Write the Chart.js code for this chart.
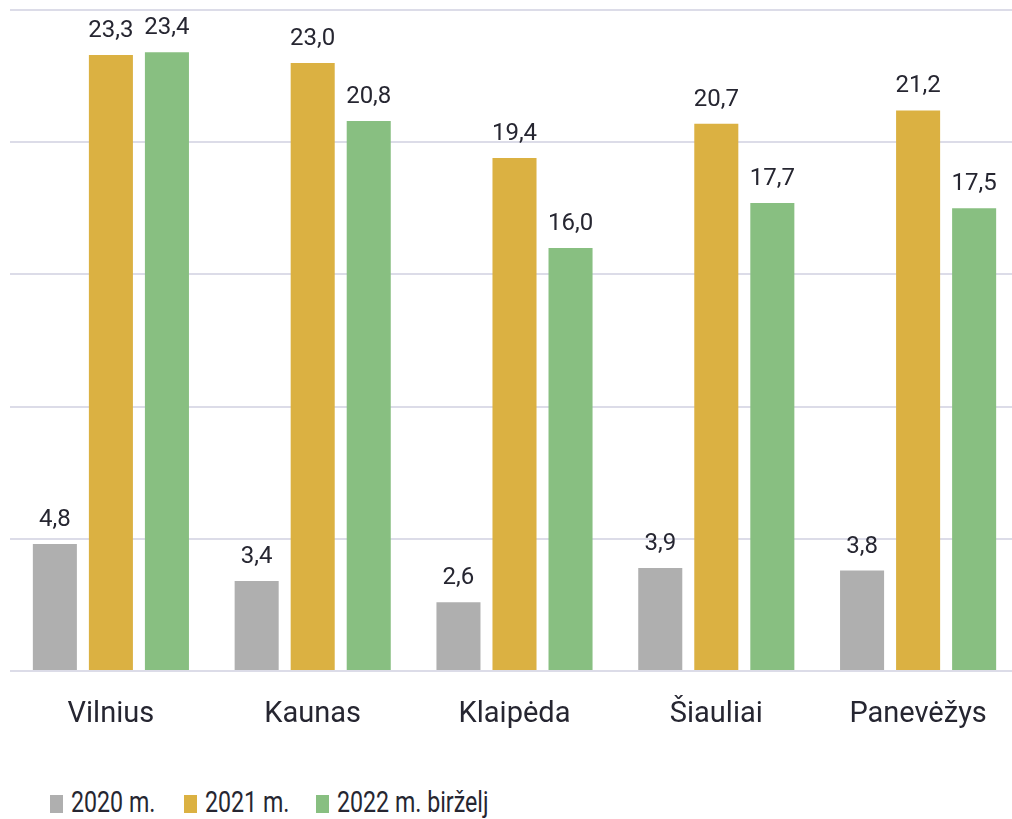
<!DOCTYPE html>
<html lang="lt">
<head>
<meta charset="utf-8">
<script src="https://cdn.jsdelivr.net/npm/chart.js@4/dist/chart.umd.min.js"></script>
<style>
  html, body { margin: 0; padding: 0; background: #fff; overflow: hidden; }
  #wrap { position: relative; width: 1012px; height: 819px; }
  #chart { position: absolute; left: 0; top: 0; }
  #legend {
    position: absolute; left: 0; top: 785px; width: 1012px; height: 34px;
    font-family: Roboto, sans-serif; font-size: 29px; color: #262631; line-height: 34px;
  }
  #legend .box { position: absolute; top: 10px; width: 13px; height: 18px; }
  #legend .txt { position: absolute; top: 0; white-space: nowrap; transform: scaleX(0.8); transform-origin: left center; }
</style>
</head>
<body>
<div id="wrap">
  <canvas id="chart" width="1020" height="750"></canvas>
  <div id="legend"></div>
</div>
<script>
const cities = ['Vilnius', 'Kaunas', 'Klaipėda', 'Šiauliai', 'Panevėžys'];
const seriesNames = ['2020 m.', '2021 m.', '2022 m. birželj'];
const values2020 = [4.8, 3.4, 2.6, 3.9, 3.8];
const values2021 = [23.3, 23.0, 19.4, 20.7, 21.2];
const values2022 = [23.4, 20.8, 16.0, 17.7, 17.5];
const colors = ['#afafaf', '#dbb142', '#88bf81'];

const textColor = '#262631';

// value labels above each bar, comma as decimal separator
const barLabels = {
  id: 'barLabels',
  afterDatasetsDraw(chart) {
    const ctx = chart.ctx;
    ctx.save();
    ctx.font = '24px Roboto, sans-serif';
    ctx.fillStyle = textColor;
    ctx.textAlign = 'center';
    ctx.textBaseline = 'alphabetic';
    chart.data.datasets.forEach((ds, i) => {
      chart.getDatasetMeta(i).data.forEach((bar, j) => {
        const txt = ds.data[j].toFixed(1).replace('.', ',');
        ctx.fillText(txt, bar.x, bar.y - 18);
      });
    });
    ctx.restore();
  }
};

const ctx = document.getElementById('chart').getContext('2d');
const chart = new Chart(ctx, {
  type: 'bar',
  data: {
    labels: cities,
    datasets: [
      { label: seriesNames[0], data: values2020, backgroundColor: colors[0] },
      { label: seriesNames[1], data: values2021, backgroundColor: colors[1] },
      { label: seriesNames[2], data: values2022, backgroundColor: colors[2] }
    ]
  },
  options: {
    responsive: false,
    animation: false,
    datasets: { bar: { categoryPercentage: 0.833, barPercentage: 0.786 } },
    layout: { padding: { left: 10, right: 1, top: 10, bottom: 10 } },
    plugins: { legend: { display: false }, tooltip: { enabled: false } },
    scales: {
      x: {
        grid: { display: false, drawTicks: false },
        border: { display: false },
        ticks: { color: textColor, font: { family: 'Roboto, sans-serif', size: 29 }, padding: 26 },
        afterFit: (s) => { s.height = 69; }
      },
      y: {
        min: 0,
        max: 25,
        ticks: { display: false, stepSize: 5 },
        grid: { color: '#dcdce8', lineWidth: 2, drawTicks: false },
        border: { display: false },
        afterFit: (s) => { s.width = 0; }
      }
    }
  },
  plugins: [barLabels]
});

// legend drawn as html below the chart, narrow lettering
const legend = document.getElementById('legend');
const boxLeft = [50, 184, 316];
seriesNames.forEach((name, i) => {
  const box = document.createElement('span');
  box.className = 'box';
  box.style.left = boxLeft[i] + 'px';
  box.style.background = colors[i];
  const txt = document.createElement('span');
  txt.className = 'txt';
  txt.style.left = (boxLeft[i] + 21) + 'px';
  txt.textContent = name;
  legend.appendChild(box);
  legend.appendChild(txt);
});
</script>
</body>
</html>
